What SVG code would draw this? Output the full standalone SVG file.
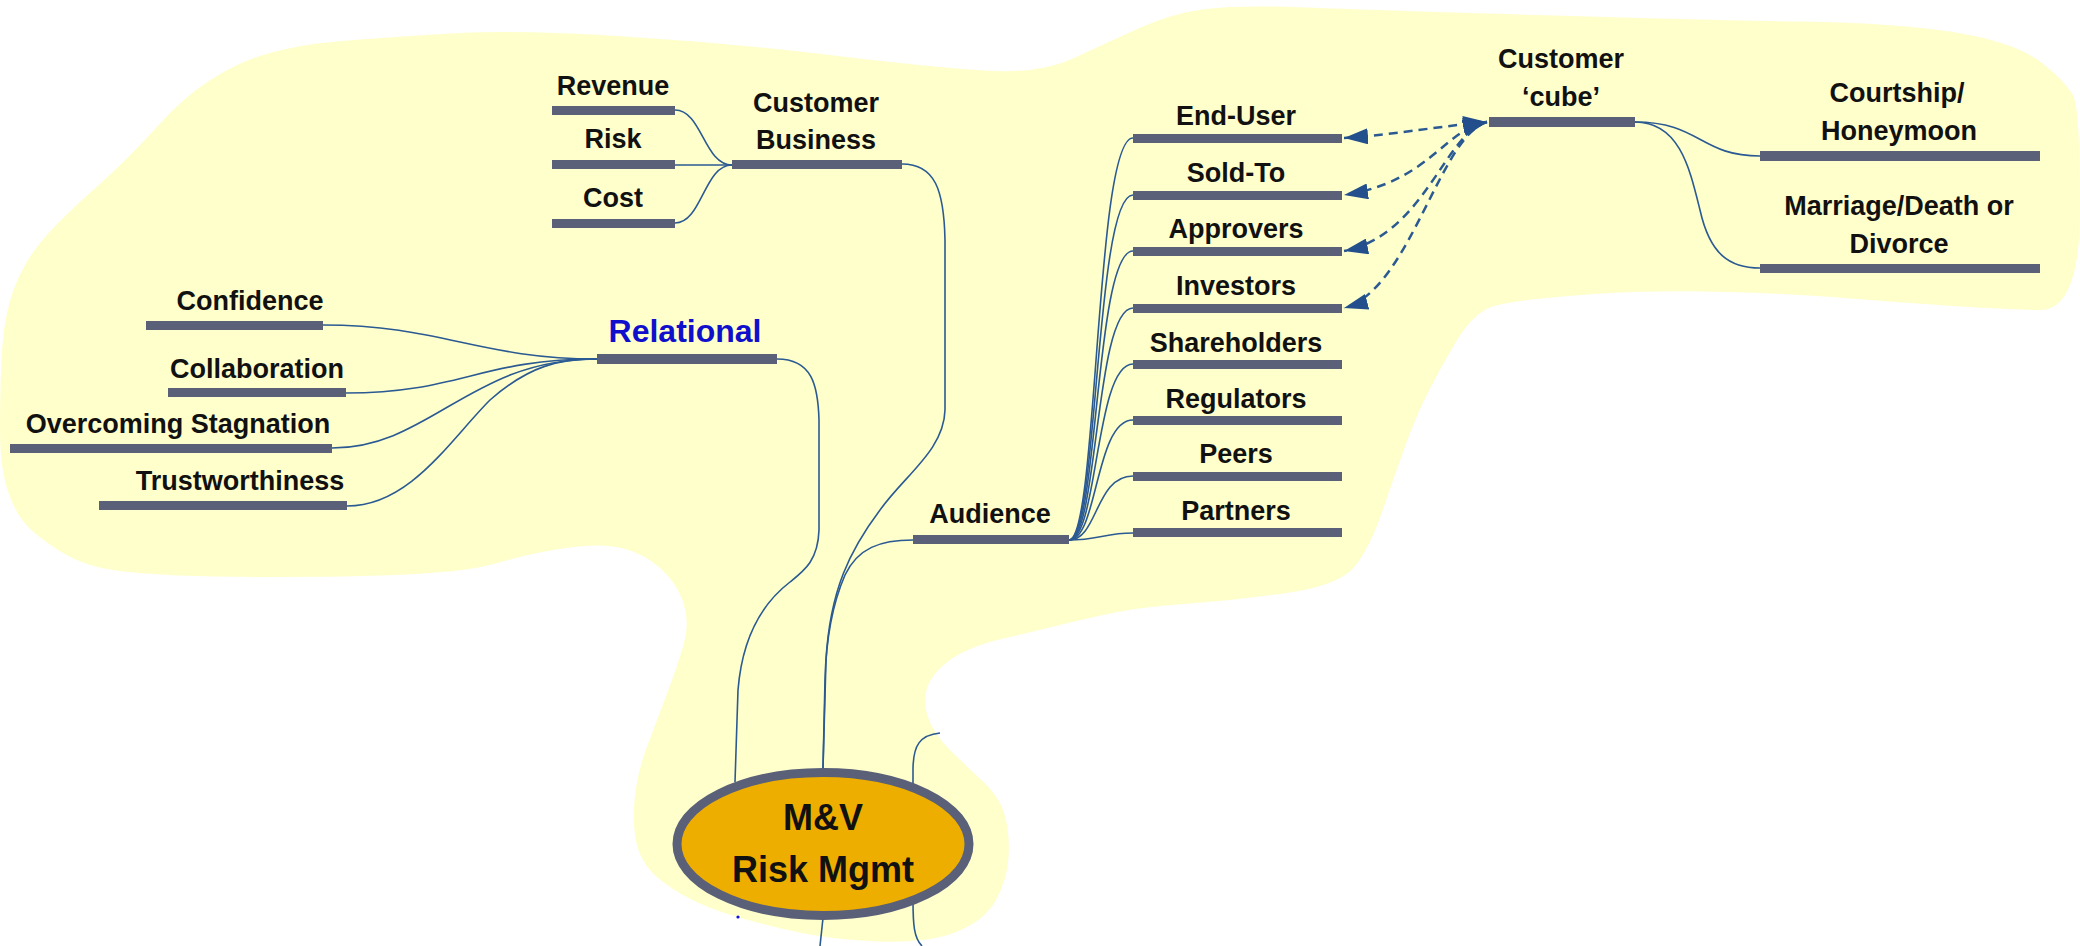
<svg xmlns="http://www.w3.org/2000/svg" width="2080" height="946" viewBox="0 0 2080 946">
<defs>
<style>
.bar{fill:#5A6078}
.lbl{font-family:"Liberation Sans",Arial,sans-serif;font-weight:bold;font-size:27px;fill:#111;text-anchor:middle}
.conn{fill:none;stroke:#2B5A93;stroke-width:1.6}
.dash{fill:none;stroke:#2B5A93;stroke-width:2.5;stroke-dasharray:9 6;marker-start:url(#ah);marker-end:url(#ah)}
</style>
<marker id="ah" viewBox="0 0 24 16" refX="24" refY="8" markerWidth="24" markerHeight="16" markerUnits="userSpaceOnUse" orient="auto-start-reverse">
<path d="M0,0 L24,8 L0,16 Z" fill="#234F8C"/>
</marker>
</defs>
<rect width="2080" height="946" fill="#FFFFFF"/>
<path id="blob" fill="#FFFFCC" d="M 233,67 Q 273,47 336.5,41.5 Q 400,36 460,33 Q 520,30 625,36.5 Q 730,43 829.5,55 Q 929,67 984.5,70.5 Q 1040,74 1073,58.5 Q 1106,43 1139.5,28 Q 1173,13 1206,9 Q 1239,5 1305.5,7.5 Q 1372,10 1536,15 Q 1700,20 1800,21.5 Q 1900,23 1958.5,33 Q 2017,43 2042,63 Q 2067,83 2073.5,96.5 Q 2080,110 2080,210 Q 2080,310 2040,310 Q 2000,310 1850,298.5 Q 1700,287 1602,293.5 Q 1504,300 1487.5,308.5 Q 1471,317 1458,338.5 Q 1445,360 1431,386.5 Q 1417,413 1405,446.5 Q 1393,480 1381.5,513.5 Q 1370,547 1355,566 Q 1340,585 1290,592.5 Q 1240,600 1190,603.5 Q 1140,607 1110,613.5 Q 1080,620 1060,625 Q 1040,630 1003.5,638.5 Q 967,647 948.5,661 Q 930,675 926.5,690 Q 923,705 929,720 Q 935,735 950,750 Q 965,765 982.5,781 Q 1000,797 1005,816 Q 1010,835 1008.5,857.5 Q 1007,880 996,900 Q 985,920 957.5,931.5 Q 930,943 879.5,941.5 Q 829,940 781,928.5 Q 733,917 708,907 Q 683,897 663,882 Q 643,867 637.5,847 Q 632,827 634.5,800 Q 637,773 647,746.5 Q 657,720 667,693.5 Q 677,667 683.5,645 Q 690,623 683.5,603 Q 677,583 660,568 Q 643,553 621.5,548 Q 600,543 565.5,548 Q 531,553 497.5,563 Q 464,573 381,575.5 Q 298,578 215.5,576.5 Q 133,575 99.5,567.5 Q 66,560 33,531.5 Q 0,503 0,431.5 Q 0,360 4,330 Q 8,300 19,276.5 Q 30,253 48.5,233 Q 67,213 97,186.5 Q 127,160 160,123.5 Q 193,87 233,67 Z"/>
<g id="connectors">
<path class="conn" d="M 675,110 C 702,110 704,165 732,165"/>
<path class="conn" d="M 675,165 L 732,165"/>
<path class="conn" d="M 675,223 C 702,223 704,165 732,165"/>
<path class="conn" d="M 902,164 C 935,164 944,190 945,240 L 945,410 C 944,450 905,475 880,510 C 850,550 830,590 826,660 L 823,768"/>
<path class="conn" d="M 913,540 C 880,540 858,548 845,575 C 832,605 826,640 825,680 L 823,768"/>
<path class="conn" d="M 777,359 C 812,359 818,385 819,420 L 819,530 C 818,560 805,570 790,582 C 760,605 742,640 738,690 L 735,782"/>
<path class="conn" d="M 323,325 C 440,325 480,359 597,359"/>
<path class="conn" d="M 346,393 C 460,393 480,359 597,359"/>
<path class="conn" d="M 332,448 C 430,448 470,359 597,359"/>
<path class="conn" d="M 347,506 C 410,506 450,440 490,400 C 530,365 560,359 597,359"/>
<path class="conn" d="M 1069,540 C 1098,540 1095,138 1133,138"/>
<path class="conn" d="M 1069,540 C 1098,540 1095,195 1133,195"/>
<path class="conn" d="M 1069,540 C 1098,540 1095,251 1133,251"/>
<path class="conn" d="M 1069,540 C 1098,540 1095,308 1133,308"/>
<path class="conn" d="M 1069,540 C 1098,540 1095,364 1133,364"/>
<path class="conn" d="M 1069,540 C 1098,540 1095,420 1133,420"/>
<path class="conn" d="M 1069,540 C 1098,540 1095,476 1133,476"/>
<path class="conn" d="M 1069,540 C 1098,540 1105,533 1133,533"/>
<path class="conn" d="M 1635,122 C 1700,122 1700,156 1760,156"/>
<path class="conn" d="M 1635,122 C 1680,122 1690,170 1700,210 C 1710,255 1730,268 1760,268"/>
<path class="conn" d="M 823,918 L 820,946"/>
<path class="conn" d="M 913,900 C 913,925 914,938 922,946"/>
<path class="conn" d="M 913,790 L 913,770 C 913,745 920,735 940,733"/>
<path class="dash" d="M 1487,122 C 1440,126 1400,134 1344,138"/>
<path class="dash" d="M 1487,122 C 1445,128 1430,182 1344,195"/>
<path class="dash" d="M 1487,122 C 1445,132 1425,235 1344,251"/>
<path class="dash" d="M 1487,122 C 1440,135 1410,290 1344,308"/>
</g>
<g id="n-revenue"><rect class="bar" x="552" y="106" width="123" height="9"/><text class="lbl" x="613" y="95">Revenue</text></g>
<g id="n-risk"><rect class="bar" x="552" y="160" width="123" height="9"/><text class="lbl" x="613" y="148">Risk</text></g>
<g id="n-cost"><rect class="bar" x="552" y="219" width="123" height="9"/><text class="lbl" x="613" y="207">Cost</text></g>
<g id="n-custbiz"><rect class="bar" x="732" y="160" width="170" height="9"/><text class="lbl" x="816" y="112">Customer</text><text class="lbl" x="816" y="149">Business</text></g>
<g id="n-confidence"><rect class="bar" x="146" y="321" width="177" height="9"/><text class="lbl" x="250" y="310">Confidence</text></g>
<g id="n-collaboration"><rect class="bar" x="168" y="388" width="178" height="9"/><text class="lbl" x="257" y="378">Collaboration</text></g>
<g id="n-overcoming"><rect class="bar" x="10" y="444" width="322" height="9"/><text class="lbl" x="178" y="433">Overcoming Stagnation</text></g>
<g id="n-trust"><rect class="bar" x="99" y="501" width="248" height="9"/><text class="lbl" x="240" y="490">Trustworthiness</text></g>
<g id="n-relational"><rect class="bar" x="597" y="354" width="180" height="10"/><text class="lbl" x="685" y="342" style="font-size:32px;fill:#1010CC">Relational</text></g>
<g id="n-audience"><rect class="bar" x="913" y="535" width="156" height="9"/><text class="lbl" x="990" y="523">Audience</text></g>
<g id="n-enduser"><rect class="bar" x="1133" y="134" width="209" height="9"/><text class="lbl" x="1236" y="125">End-User</text></g>
<g id="n-soldto"><rect class="bar" x="1133" y="191" width="209" height="9"/><text class="lbl" x="1236" y="182">Sold-To</text></g>
<g id="n-approvers"><rect class="bar" x="1133" y="247" width="209" height="9"/><text class="lbl" x="1236" y="238">Approvers</text></g>
<g id="n-investors"><rect class="bar" x="1133" y="304" width="209" height="9"/><text class="lbl" x="1236" y="295">Investors</text></g>
<g id="n-shareholders"><rect class="bar" x="1133" y="360" width="209" height="9"/><text class="lbl" x="1236" y="352">Shareholders</text></g>
<g id="n-regulators"><rect class="bar" x="1133" y="416" width="209" height="9"/><text class="lbl" x="1236" y="408">Regulators</text></g>
<g id="n-peers"><rect class="bar" x="1133" y="472" width="209" height="9"/><text class="lbl" x="1236" y="463">Peers</text></g>
<g id="n-partners"><rect class="bar" x="1133" y="528" width="209" height="9"/><text class="lbl" x="1236" y="520">Partners</text></g>
<g id="n-cube"><rect class="bar" x="1489" y="117" width="146" height="10"/><text class="lbl" x="1561" y="68">Customer</text><text class="lbl" x="1561" y="106">‘cube’</text></g>
<g id="n-courtship"><rect class="bar" x="1760" y="151" width="280" height="10"/><text class="lbl" x="1897" y="102">Courtship/</text><text class="lbl" x="1899" y="140">Honeymoon</text></g>
<g id="n-marriage"><rect class="bar" x="1760" y="264" width="280" height="9"/><text class="lbl" x="1899" y="215">Marriage/Death or</text><text class="lbl" x="1899" y="253">Divorce</text></g>
<g id="n-center"><ellipse cx="823" cy="844" rx="146" ry="71.5" fill="#EEAE00" stroke="#5A6078" stroke-width="9"/><text class="lbl" x="823" y="830" style="font-size:36px">M&amp;V</text><text class="lbl" x="823" y="882" style="font-size:36px">Risk Mgmt</text></g>
<circle cx="738" cy="917" r="1.6" fill="#1010DD"/>
</svg>
